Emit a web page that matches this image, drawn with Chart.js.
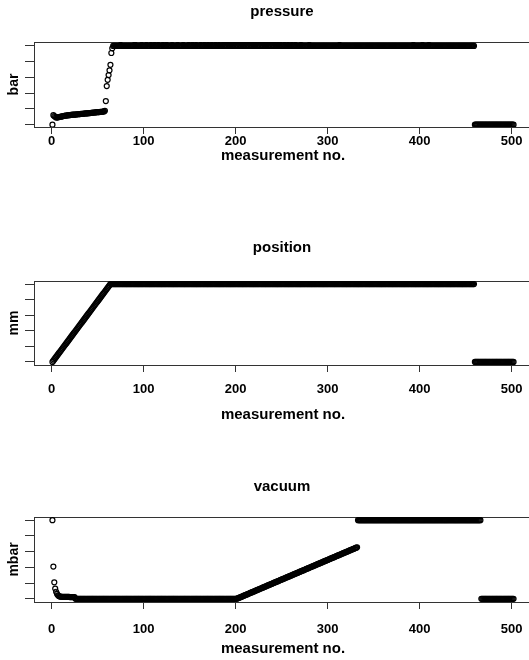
<!DOCTYPE html>
<html>
<head>
<meta charset="utf-8">
<script src="https://cdn.jsdelivr.net/npm/chart.js@4.4.1/dist/chart.umd.min.js"></script>
<style>
html, body { margin: 0; padding: 0; background: #fff; width: 529px; height: 660px; overflow: hidden; position: relative; }
canvas { position: absolute; left: 0; }
</style>
</head>
<body>
<canvas id="pressure" width="564" height="165" style="top:0px"></canvas>
<canvas id="position" width="564" height="194" style="top:230px"></canvas>
<canvas id="vacuum" width="564" height="188" style="top:470px"></canvas>
<script>
// readings per measurement no. (1 .. 502)
var pressureBar = [
  0, 0.6, 0.55, 0.5, 0.46, 0.45, 0.47, 0.48, 0.5, 0.5,
  0.52, 0.53, 0.55, 0.56, 0.57, 0.58, 0.58, 0.6, 0.6, 0.61,
  0.62, 0.62, 0.63, 0.63, 0.64, 0.64, 0.65, 0.66, 0.66, 0.67,
  0.67, 0.68, 0.68, 0.69, 0.7, 0.7, 0.71, 0.72, 0.72, 0.73,
  0.73, 0.74, 0.75, 0.75, 0.76, 0.77, 0.77, 0.78, 0.79, 0.79,
  0.8, 0.8, 0.81, 0.82, 0.82, 0.83, 0.84, 0.88,
  1.5, 2.45, 2.85, 3.15, 3.45, 3.8, 4.55, 4.85,
  5, 5, 5, 5, 5, 5, 5, 5, 5.06, 5, 5, 5, 5, 5, 5, 5, 5, 5, 5, 5,
  5, 5, 5, 5.06, 5.06, 5, 5, 5, 5, 5, 5, 5.06, 5, 5, 5, 5, 5.06, 5, 5, 5,
  5, 5.06, 5, 5, 5, 5.06, 5, 5, 5, 5.06, 5, 5, 5, 5, 5.06, 5, 5, 5, 5.06, 5,
  5, 5, 5, 5, 5.06, 5, 5, 5, 5, 5, 5.06, 5, 5, 5, 5, 5, 5.06, 5, 5, 5,
  5, 5, 5.06, 5, 5, 5, 5.06, 5, 5, 5, 5.06, 5, 5, 5, 5, 5.06, 5, 5, 5, 5.06,
  5, 5, 5, 5.06, 5, 5, 5, 5.06, 5, 5, 5, 5.06, 5, 5, 5, 5.06, 5, 5, 5, 5.06,
  5, 5, 5.06, 5, 5, 5.06, 5, 5, 5.06, 5, 5, 5.06, 5, 5, 5.06, 5, 5, 5.06, 5, 5,
  5.06, 5, 5, 5.06, 5, 5, 5.06, 5, 5, 5.06, 5, 5, 5.06, 5, 5, 5.06, 5, 5, 5.06, 5,
  5, 5.06, 5, 5, 5.06, 5, 5, 5.06, 5, 5, 5.06, 5, 5, 5.06, 5, 5, 5.06, 5, 5, 5.06,
  5, 5, 5.06, 5, 5, 5, 5.06, 5, 5, 5, 5.06, 5, 5, 5, 5.06, 5, 5, 5, 5.06, 5,
  5, 5, 5, 5, 5.06, 5, 5, 5, 5, 5, 5, 5, 5, 5.06, 5, 5, 5, 5, 5, 5,
  5, 5, 5, 5, 5, 5, 5, 5, 5, 5, 5, 5, 5, 5, 5, 5, 5, 5, 5, 5,
  5, 5, 5, 5, 5, 5, 5.06, 5, 5, 5, 5, 5, 5, 5, 5, 5, 5, 5, 5, 5,
  5, 5, 5, 5, 5, 5, 5, 5, 5, 5, 5, 5, 5, 5, 5, 5, 5, 5, 5, 5,
  5, 5, 5, 5, 5, 5, 5, 5, 5, 5, 5, 5, 5, 5, 5, 5, 5, 5, 5, 5,
  5, 5, 5, 5, 5, 5, 5, 5, 5, 5, 5, 5, 5, 5, 5, 5, 5, 5, 5, 5,
  5, 5, 5, 5, 5, 5, 5.06, 5, 5, 5, 5, 5, 5, 5, 5, 5, 5.06, 5, 5, 5,
  5, 5, 5, 5.06, 5, 5, 5, 5, 5, 5, 5, 5, 5, 5, 5, 5, 5, 5, 5, 5,
  5, 5, 5, 5, 5, 5, 5, 5, 5, 5, 5, 5, 5, 5, 5, 5, 5, 5, 5, 5,
  5, 5, 5, 5, 5, 5, 5, 5, 5, 5, 5, 5, 5,
  0, 0, 0, 0, 0, 0, 0, 0, 0, 0, 0, 0, 0, 0, 0, 0, 0, 0, 0, 0,
  0, 0, 0, 0, 0, 0, 0, 0, 0, 0, 0, 0, 0, 0, 0, 0, 0, 0, 0, 0,
  0, 0, 0
];

var positionMm = [
  0, 0.8, 1.6, 2.4, 3.2, 4, 4.8, 5.6, 6.3, 7.1,
  7.9, 8.7, 9.5, 10.3, 11.1, 11.9, 12.7, 13.5, 14.3, 15.1,
  15.9, 16.7, 17.5, 18.3, 19, 19.8, 20.6, 21.4, 22.2, 23,
  23.8, 24.6, 25.4, 26.2, 27, 27.8, 28.6, 29.4, 30.2, 31,
  31.7, 32.5, 33.3, 34.1, 34.9, 35.7, 36.5, 37.3, 38.1, 38.9,
  39.7, 40.5, 41.3, 42.1, 42.9, 43.7, 44.4, 45.2, 46, 46.8,
  47.6, 48.4, 49.2, 50,
  // 65 .. 84
  50, 50, 50, 50, 50, 50, 50, 50, 50, 50, 50, 50, 50, 50, 50, 50, 50, 50, 50, 50,
  // 85 .. 104
  50, 50, 50, 50, 50, 50, 50, 50, 50, 50, 50, 50, 50, 50, 50, 50, 50, 50, 50, 50,
  // 105 .. 124
  50, 50, 50, 50, 50, 50, 50, 50, 50, 50, 50, 50, 50, 50, 50, 50, 50, 50, 50, 50,
  // 125 .. 144
  50, 50, 50, 50, 50, 50, 50, 50, 50, 50, 50, 50, 50, 50, 50, 50, 50, 50, 50, 50,
  // 145 .. 164
  50, 50, 50, 50, 50, 50, 50, 50, 50, 50, 50, 50, 50, 50, 50, 50, 50, 50, 50, 50,
  // 165 .. 184
  50, 50, 50, 50, 50, 50, 50, 50, 50, 50, 50, 50, 50, 50, 50, 50, 50, 50, 50, 50,
  // 185 .. 204
  50, 50, 50, 50, 50, 50, 50, 50, 50, 50, 50, 50, 50, 50, 50, 50, 50, 50, 50, 50,
  // 205 .. 224
  50, 50, 50, 50, 50, 50, 50, 50, 50, 50, 50, 50, 50, 50, 50, 50, 50, 50, 50, 50,
  // 225 .. 244
  50, 50, 50, 50, 50, 50, 50, 50, 50, 50, 50, 50, 50, 50, 50, 50, 50, 50, 50, 50,
  // 245 .. 264
  50, 50, 50, 50, 50, 50, 50, 50, 50, 50, 50, 50, 50, 50, 50, 50, 50, 50, 50, 50,
  // 265 .. 284
  50, 50, 50, 50, 50, 50, 50, 50, 50, 50, 50, 50, 50, 50, 50, 50, 50, 50, 50, 50,
  // 285 .. 304
  50, 50, 50, 50, 50, 50, 50, 50, 50, 50, 50, 50, 50, 50, 50, 50, 50, 50, 50, 50,
  // 305 .. 324
  50, 50, 50, 50, 50, 50, 50, 50, 50, 50, 50, 50, 50, 50, 50, 50, 50, 50, 50, 50,
  // 325 .. 344
  50, 50, 50, 50, 50, 50, 50, 50, 50, 50, 50, 50, 50, 50, 50, 50, 50, 50, 50, 50,
  // 345 .. 364
  50, 50, 50, 50, 50, 50, 50, 50, 50, 50, 50, 50, 50, 50, 50, 50, 50, 50, 50, 50,
  // 365 .. 384
  50, 50, 50, 50, 50, 50, 50, 50, 50, 50, 50, 50, 50, 50, 50, 50, 50, 50, 50, 50,
  // 385 .. 404
  50, 50, 50, 50, 50, 50, 50, 50, 50, 50, 50, 50, 50, 50, 50, 50, 50, 50, 50, 50,
  // 405 .. 424
  50, 50, 50, 50, 50, 50, 50, 50, 50, 50, 50, 50, 50, 50, 50, 50, 50, 50, 50, 50,
  // 425 .. 444
  50, 50, 50, 50, 50, 50, 50, 50, 50, 50, 50, 50, 50, 50, 50, 50, 50, 50, 50, 50,
  // 445 .. 459
  50, 50, 50, 50, 50, 50, 50, 50, 50, 50, 50, 50, 50, 50, 50,
  // 460 .. 502
  0, 0, 0, 0, 0, 0, 0, 0, 0, 0, 0, 0, 0, 0, 0, 0, 0, 0, 0, 0,
  0, 0, 0, 0, 0, 0, 0, 0, 0, 0, 0, 0, 0, 0, 0, 0, 0, 0, 0, 0,
  0, 0, 0
];

var vacuumMbar = [
  1000, 410, 210, 130, 90, 62, 45, 36, 30,
  28, 27, 26, 26, 25, 25, 25, 24, 24, 24, 23, 23, 23, 22, 22, 22,
  0, 0, 0, 0, 0, 0, 0, 0, 0, 0, 0, 0, 0, 0, 0, 0, 0, 0, 0, 0,
  0, 0, 0, 0, 0, 0, 0, 0, 0, 0, 0, 0, 0, 0, 0, 0, 0, 0, 0, 0,
  0, 0, 0, 0, 0, 0, 0, 0, 0, 0, 0, 0, 0, 0, 0, 0, 0, 0, 0, 0,
  0, 0, 0, 0, 0, 0, 0, 0, 0, 0, 0, 0, 0, 0, 0, 0, 0, 0, 0, 0,
  0, 0, 0, 0, 0, 0, 0, 0, 0, 0, 0, 0, 0, 0, 0, 0, 0, 0, 0, 0,
  0, 0, 0, 0, 0, 0, 0, 0, 0, 0, 0, 0, 0, 0, 0, 0, 0, 0, 0, 0,
  0, 0, 0, 0, 0, 0, 0, 0, 0, 0, 0, 0, 0, 0, 0, 0, 0, 0, 0, 0,
  0, 0, 0, 0, 0, 0, 0, 0, 0, 0, 0, 0, 0, 0, 0, 0, 0, 0, 0, 0,
  0, 0, 0, 0, 0, 0, 0, 0, 0, 0, 0, 0, 0, 0, 0,
  0, 5, 10, 15, 20, 25, 30, 35, 40, 45, 50, 55, 60, 65, 70, 75, 80, 85, 90, 95,
  100, 105, 110, 115, 120, 125, 130, 135, 140, 145, 150, 155, 160, 165, 170, 175, 180, 185, 190, 195,
  200, 205, 210, 215, 220, 225, 230, 235, 240, 245, 250, 255, 260, 265, 270, 275, 280, 285, 290, 295,
  300, 305, 310, 315, 320, 325, 330, 335, 340, 345, 350, 355, 360, 365, 370, 375, 380, 385, 390, 395,
  400, 405, 410, 415, 420, 425, 430, 435, 440, 445, 450, 455, 460, 465, 470, 475, 480, 485, 490, 495,
  500, 505, 510, 515, 520, 525, 530, 535, 540, 545, 550, 555, 560, 565, 570, 575, 580, 585, 590, 595,
  600, 605, 610, 615, 620, 625, 630, 635, 640, 645, 650, 655,
  1000, 1000, 1000, 1000, 1000, 1000, 1000, 1000, 1000, 1000, 1000, 1000, 1000, 1000, 1000, 1000, 1000, 1000, 1000, 1000,
  1000, 1000, 1000, 1000, 1000, 1000, 1000, 1000, 1000, 1000, 1000, 1000, 1000, 1000, 1000, 1000, 1000, 1000, 1000, 1000,
  1000, 1000, 1000, 1000, 1000, 1000, 1000, 1000, 1000, 1000, 1000, 1000, 1000, 1000, 1000, 1000, 1000, 1000, 1000, 1000,
  1000, 1000, 1000, 1000, 1000, 1000, 1000, 1000, 1000, 1000, 1000, 1000, 1000, 1000, 1000, 1000, 1000, 1000, 1000, 1000,
  1000, 1000, 1000, 1000, 1000, 1000, 1000, 1000, 1000, 1000, 1000, 1000, 1000, 1000, 1000, 1000, 1000, 1000, 1000, 1000,
  1000, 1000, 1000, 1000, 1000, 1000, 1000, 1000, 1000, 1000, 1000, 1000, 1000, 1000, 1000, 1000, 1000, 1000, 1000, 1000,
  1000, 1000, 1000, 1000, 1000, 1000, 1000, 1000, 1000, 1000, 1000, 1000, 1000, 1000,
  0, 0, 0, 0, 0, 0, 0, 0, 0, 0, 0, 0, 0, 0, 0, 0, 0, 0, 0, 0,
  0, 0, 0, 0, 0, 0, 0, 0, 0, 0, 0, 0, 0, 0, 0, 0
];

var xTitle = 'measurement no.';
var xTicks = [0, 100, 200, 300, 400, 500];

var FONT = '"Liberation Sans", Arial, sans-serif';

// box round the plot region, like R's box()
var framePlugin = {
  id: 'frame',
  beforeDatasetsDraw: function (chart) {
    var a = chart.chartArea, c = chart.ctx;
    c.save();
    c.strokeStyle = '#333';
    c.lineWidth = 1;
    c.strokeRect(Math.round(a.left) + 0.5, Math.round(a.top) + 0.5,
      Math.round(a.right - a.left), Math.round(a.bottom - a.top));
    c.restore();
  }
};

function panel(id, title, unit, values, yMin, yMax, yStep, lay) {
  var pts = values.map(function (v, i) { return { x: i + 1, y: v }; });
  return new Chart(document.getElementById(id), {
    type: 'scatter',
    data: {
      datasets: [{
        data: pts,
        pointRadius: 2.5,
        pointHoverRadius: 2.5,
        pointBorderWidth: 1.2,
        borderColor: '#000',
        backgroundColor: 'rgba(0,0,0,0)'
      }]
    },
    options: {
      responsive: false,
      animation: false,
      events: [],
      layout: { padding: 0 },
      plugins: {
        legend: { display: false },
        tooltip: { enabled: false },
        title: {
          display: true, text: title, color: '#000',
          font: { family: FONT, size: 15, weight: 'bold', lineHeight: 1.2 },
          padding: { top: lay.titleTop, bottom: lay.titleBottom }
        }
      },
      scales: {
        x: {
          type: 'linear', position: 'bottom', min: -19.04, max: 522.04,
          afterBuildTicks: function (s) { s.ticks = xTicks.map(function (v) { return { value: v }; }); },
          ticks: { padding: lay.tickPad, color: '#000', maxRotation: 0, autoSkip: false,
            font: { family: FONT, size: 13, weight: 'bold', lineHeight: 1.2 } },
          grid: { drawOnChartArea: false, drawTicks: true, tickLength: 7, color: '#333' },
          border: { display: false },
          title: { display: true, text: xTitle, color: '#000', padding: 0,
            font: { family: FONT, size: 15, weight: 'bold', lineHeight: 1.2 } },
          afterFit: function (s) { s.height = lay.xHeight; }
        },
        y: {
          min: yMin, max: yMax,
          ticks: { display: false, stepSize: yStep, includeBounds: false },
          grid: { drawOnChartArea: false, drawTicks: true, tickLength: 9, color: '#333' },
          border: { display: false },
          title: { display: true, text: unit, color: '#000', padding: { top: 6, bottom: 0 },
            font: { family: FONT, size: 14, weight: 'bold', lineHeight: 1.2 } },
          afterFit: function (s) { s.width = 34; }
        },
        pad: {
          type: 'linear', position: 'right', display: true,
          grid: { display: false }, border: { display: false }, ticks: { display: false },
          afterFit: function (s) { s.width = 32; }
        }
      }
    },
    plugins: [framePlugin]
  });
}

panel('pressure', 'pressure', 'bar', pressureBar, -0.15, 5.25, 1,
  { titleTop: 3, titleBottom: 21, tickPad: 0, xHeight: 38 });
panel('position', 'position', 'mm', positionMm, -2, 52, 10,
  { titleTop: 9, titleBottom: 24, tickPad: 10, xHeight: 59 });
panel('vacuum', 'vacuum', 'mbar', vacuumMbar, -40, 1040, 200,
  { titleTop: 8, titleBottom: 21, tickPad: 13, xHeight: 56 });
</script>
</body>
</html>
